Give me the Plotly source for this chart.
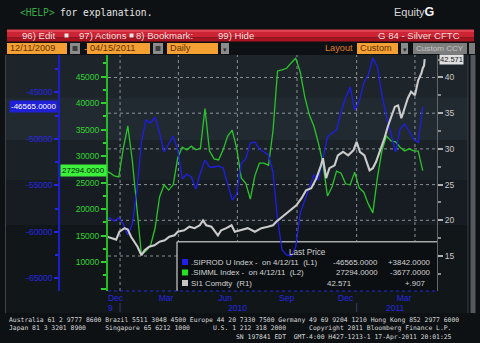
import pandas as pd
import plotly.graph_objects as go

# ---------------------------------------------------------------- data
# weekly CFTC positions (Tuesdays)
weeks = pd.date_range("2009-12-08", periods=71, freq="7D")

siprod_l1 = [
    -58620, -58510, -58840, -58510, -59160, -60340, -59160, -55500, -50340, -47980,
    -48300, -47660, -49380, -51420, -50560, -49700, -51200, -54320, -53780, -54100,
    -55400, -53680, -52280, -53030, -53030, -52920, -53140, -54750, -56580, -55930,
    -52600, -52170, -50450, -50340, -51100, -51420, -51740, -53570, -58620, -61950,
    -62490, -62600, -61630, -57980, -56580, -55070, -53890, -54430, -51960, -49810,
    -49380, -49050, -47120, -45610, -44430, -46900, -45940, -44000, -43140, -41310,
    -42280, -45290, -47550, -49480, -51420, -48950, -48410, -49160, -50020, -50407,
    -46565,
]

simml_l2 = [
    27200, 26900, 26300, 26100, 31500, 35700, 29100, 19800, 11400, 12100,
    13100, 16400, 22300, 24600, 23600, 24600, 29700, 31700, 31200, 31900,
    31200, 31500, 39000, 31000, 29500, 29300, 31200, 33800, 34900, 31500,
    25900, 24900, 21900, 26300, 28700, 28700, 28300, 34800, 46100, 46300,
    46600, 47600, 48500, 45900, 41200, 37800, 35700, 32500, 28700, 22500,
    24200, 27200, 26800, 24800, 24600, 27000, 24000, 23200, 21000, 19300,
    25900, 31000, 33800, 32900, 32700, 31700, 31000, 31400, 31000, 30971,
    27294,
]

# silver front-month price
silver_dates = [
    "2009-12-11", "2009-12-20", "2009-12-25", "2009-12-30", "2010-01-07", "2010-01-12",
    "2010-01-17", "2010-01-22", "2010-01-27", "2010-02-02", "2010-02-07", "2010-02-14",
    "2010-02-22", "2010-03-02", "2010-03-10", "2010-03-17", "2010-03-25", "2010-03-30",
    "2010-04-09", "2010-04-17", "2010-04-25", "2010-05-03", "2010-05-08", "2010-05-13",
    "2010-05-21", "2010-05-31", "2010-06-05", "2010-06-13", "2010-06-21", "2010-06-26",
    "2010-07-06", "2010-07-16", "2010-07-27", "2010-08-06", "2010-08-16", "2010-08-24",
    "2010-08-29", "2010-09-08", "2010-09-19", "2010-09-29", "2010-10-07", "2010-10-14",
    "2010-10-22", "2010-10-30", "2010-11-06", "2010-11-09", "2010-11-14", "2010-11-19",
    "2010-11-27", "2010-12-02", "2010-12-10", "2010-12-18", "2010-12-26", "2010-12-31",
    "2011-01-05", "2011-01-12", "2011-01-20", "2011-01-25", "2011-01-30", "2011-02-07",
    "2011-02-12", "2011-02-17", "2011-02-23", "2011-02-28", "2011-03-05", "2011-03-10",
    "2011-03-15", "2011-03-20", "2011-03-25", "2011-03-31", "2011-04-05", "2011-04-10",
    "2011-04-12", "2011-04-14", "2011-04-15",
]
silver_r1 = [
    17.7, 17.5, 17.3, 18.4, 18.9, 18.7,
    17.7, 17.0, 16.3, 15.1, 15.8, 16.3,
    16.5, 17.0, 17.2, 17.7, 17.9, 18.4,
    18.6, 19.1, 18.9, 19.3, 20.0, 19.3,
    19.1, 17.9, 18.6, 18.9, 19.3, 18.4,
    18.6, 18.9, 18.4, 18.9, 19.1, 19.3,
    19.8, 20.5, 21.4, 22.1, 23.1, 24.2,
    24.5, 25.9, 27.7, 28.7, 25.9, 27.3,
    27.7, 29.1, 29.6, 29.1, 29.8, 31.0,
    29.6, 29.1, 27.0, 27.3, 28.2, 30.1,
    31.5, 33.1, 34.5, 35.9, 36.1, 34.3,
    35.7, 37.1, 38.0, 37.5, 39.6, 40.6,
    41.3, 41.664, 42.571,
]

l1_ticks = [-65000, -60000, -55000, -50000, -45000]
l1_text = ["-65000", "-60000", "-55000", "-50000", "-45000"]
l2_ticks = [5000, 10000, 15000, 20000, 25000, 30000, 35000, 40000, 45000]
l2_text = ["", "10000", "15000", "20000", "25000", "30000", "35000", "40000", "45000"]
r1_ticks = [15, 20, 25, 30, 35, 40]
month_ticks = ["2009-12-24", "2010-03-12", "2010-06-11", "2010-09-14", "2010-12-14", "2011-03-14"]
month_text = ["Dec", "Mar", "Jun", "Sep", "Dec", "Mar"]
quarter_ends = ["2009-12-31", "2010-03-31", "2010-06-30", "2010-09-30", "2010-12-31", "2011-03-31"]
year_pos = ["2009-12-16", "2010-06-30", "2011-03-01"]
year_text = ["9", "2010", "2011"]

legend_rows = [
    (".SIPROD U Index -  on 4/12/11  (L1)", "-46565.0000", "+3842.0000", "#1f1fe8"),
    (".SIMML Index -  on 4/12/11  (L2)", "27294.0000", "-3677.0000", "#22e022"),
    ("SI1 Comdty  (R1)", "42.571", "+.907", "#c4c4c4"),
]

footer_lines = [
    ["Australia 61 2 9777 8600 Brazil 5511 3048 4500 Europe 44 20 7330 7500 "
     "Germany 49 69 9204 1210 Hong Kong 852 2977 6000"],
    ["Japan 81 3 3201 8900", "Singapore 65 6212 1000", "U.S. 1 212 318 2000",
     "Copyright 2011 Bloomberg Finance L.P."],
    ["SN 197841 EDT", "GMT-4:00 H427-1213-1 17-Apr-2011 20:01:25"],
]
# character columns where each footer segment starts
footer_cols = [[0], [0, 25, 53, 78], [59, 74]]

# ---------------------------------------------------------------- geometry helpers
W, H = 480, 343
ML, MR, MT, MB = 59, 43, 55, 52


def px(x):
    return (x - ML) / (W - ML - MR)


def py(y):
    return (H - MB - y) / (H - MT - MB)


MONO = "DejaVu Sans Mono"
SANS = "Liberation Sans, Arial, sans-serif"
BLUE = "#2626e0"
GREEN = "#33d233"

fig = go.Figure()
fig.add_trace(go.Scatter(x=weeks, y=simml_l2, yaxis="y", mode="lines",
                         line=dict(color="#2bc42b", width=1.3), hoverinfo="skip"))
fig.add_trace(go.Scatter(x=weeks, y=siprod_l1, yaxis="y2", mode="lines",
                         line=dict(color="#1e1ee6", width=1.3), hoverinfo="skip"))
fig.add_trace(go.Scatter(x=silver_dates, y=silver_r1, yaxis="y3", mode="lines",
                         line=dict(color="#cbcbcb", width=2.1), hoverinfo="skip"))

shapes = []


def rect(x0, y0, x1, y1, fill, layer="below", line=None):
    shapes.append(dict(type="rect", xref="paper", yref="paper",
                       x0=px(x0), x1=px(x1), y0=py(y1), y1=py(y0),
                       fillcolor=fill, line=line or dict(width=0), layer=layer))


def vline(x, y0, y1, color, width=1, layer="below"):
    shapes.append(dict(type="line", xref="paper", yref="paper",
                       x0=px(x), x1=px(x), y0=py(y0), y1=py(y1),
                       line=dict(color=color, width=width), layer=layer))


def hline(x0, x1, y, color, width=1, layer="below"):
    shapes.append(dict(type="line", xref="paper", yref="paper",
                       x0=px(x0), x1=px(x1), y0=py(y), y1=py(y),
                       line=dict(color=color, width=width), layer=layer))


# chart panel background bands
for y0, y1, c in [(55, 98, "#1d252b"), (98, 140, "#212a30"), (140, 180, "#1b2227"),
                  (180, 225, "#161c21"), (225, 313, "#111619")]:
    rect(5, y0, 468, y1, c)
vline(5.5, 55, 313, "#3c4247")
vline(468, 55, 313, "#3c4247")
rect(470.5, 55, 475.5, 313, "#55595e")

# dotted grid: quarter ends and right-axis levels
GRID = dict(color="#8b9197", width=1, dash="dot")
for d in quarter_ends:
    shapes.append(dict(type="line", xref="x", yref="paper", x0=d, x1=d, y0=0, y1=1,
                       line=GRID, layer="below"))
for v in r1_ticks:
    shapes.append(dict(type="line", xref="paper", yref="y3", x0=px(108), x1=1, y0=v, y1=v,
                       line=GRID, layer="below"))

# legend panel inside the plot (covers the grid, lies under the series)
rect(177, 241.7, 437, 291, "#0b0f12")
hline(177, 437, 241.7, "#a8a8a8", 1.5)
vline(177, 241.7, 291, "#a8a8a8", 1.5)
for i, row in enumerate(legend_rows):
    yc = [262, 272.5, 283][i]
    rect(182, yc - 3, 188, yc + 3, row[3], layer="above")

# bottom axis line and year separators
shapes.append(dict(type="line", xref="paper", yref="paper", x0=px(108), x1=1, y0=0, y1=0,
                   line=dict(color=BLUE, width=1.2, dash="dot"), layer="above"))
for d in ["2009-12-31", "2010-12-31"]:
    shapes.append(dict(type="line", xref="x", yref="paper", x0=d, x1=d,
                       y0=py(303), y1=py(312), line=dict(color="#363c6a", width=1)))

# header: red command bar
rect(7, 29.5, 474, 32, "#de4050")
rect(7, 32, 474, 37.5, "#cc2434")
rect(7, 37.5, 474, 41.5, "#a8141f")
rect(64.5, 33.5, 68.5, 37.5, "#e8e8e8")
rect(129.5, 33.5, 133.5, 37.5, "#e8e8e8")

# header: input fields
for x0, x1 in [(7, 67), (87, 150), (167, 218), (357, 398)]:
    rect(x0, 43, x1, 54, "#f5a032")
for x0, x1 in [(70, 80), (153, 163)]:
    rect(x0, 43, x1, 54, "#8c8c8c")
    rect(x0 + 2.5, 46, x1 - 2.5, 51, "#3e3e3e")
for x0, x1 in [(221, 229), (401, 408)]:
    rect(x0, 43, x1, 54, "#8c8c8c")
rect(413, 43, 467, 54, "#7d7d7d")
rect(469, 43, 475, 54, "#7d7d7d")

annotations = []


def text(x, y, s, color, size, font=SANS, anchor="left", **kw):
    annotations.append(dict(x=px(x), y=py(y), xref="paper", yref="paper", text=s,
                            showarrow=False, xanchor=anchor, yanchor="middle",
                            font=dict(family=font, size=size, color=color), **kw))


# top line
text(18, 12, "&lt;HELP&gt;", "#39a845", 9.6, MONO)
text(58, 12, "for explanation.", "#e6e6e6", 9.6, MONO)
text(392, 12, "Equity<b><span style='font-size:12.5px;color:#f4f4f4'>G</span></b>",
     "#d8d8d8", 11)

# red bar labels
bar_c = "#f6dede"
text(20, 35.5, "96) Edit", bar_c, 9.6)
text(77, 35.5, "97) Actions", bar_c, 9.6)
text(134, 35.5, "8) Bookmark:", bar_c, 9.6)
text(216, 35.5, "99) Hide", bar_c, 9.6)
text(462, 35.5, "G 84 - Silver CFTC", bar_c, 9.6, anchor="right")

# input field labels
field_c = "#5e3200"
text(8, 48.5, "12/11/2009", field_c, 9.2)
text(81.5, 48.5, "-", "#f5a032", 9.5)
text(88, 48.5, "04/15/2011", field_c, 9.2)
text(168, 48.5, "Daily", field_c, 9.2)
text(225, 49, "▾", "#2a2a2a", 7, anchor="center")
text(355, 48.5, "Layout", "#e07b20", 9.2, anchor="right")
text(358, 48.5, "Custom", field_c, 9.2)
text(404.5, 49, "▾", "#2a2a2a", 7, anchor="center")
text(414, 48.5, "Custom CCY", "#c4c4c4", 8.1)

# legend panel text
leg_c = "#d2d2d2"
text(307, 252, "Last Price", leg_c, 8.2, anchor="center")
for i, (lab, val, chg, _) in enumerate(legend_rows):
    yc = [262, 272.5, 283][i]
    text(188.5, yc, lab.replace("  ", "\u00a0 "), leg_c, 7.9)
    text(353 if i == 2 else 380, yc, val, leg_c, 7.9, anchor="right")
    text(427 if i == 2 else 433, yc, chg, leg_c, 7.9, anchor="right")

# year labels under the month ticks
for d, s in zip(year_pos, year_text):
    annotations.append(dict(x=d, y=py(308), xref="x", yref="paper", text=s, showarrow=False,
                            xanchor="center", yanchor="middle",
                            font=dict(family=SANS, size=8.5, color=BLUE)))

# last-value tags on the axes
annotations.append(dict(x=px(58), y=siprod_l1[-1], xref="paper", yref="y2",
                        text=f"{siprod_l1[-1]:.4f}", showarrow=False, xanchor="right",
                        yanchor="middle", bgcolor="#2020d8", borderpad=1,
                        font=dict(family=SANS, size=8, color="#ffffff")))
annotations.append(dict(x=px(107), y=simml_l2[-1], xref="paper", yref="y",
                        text=f"{simml_l2[-1]:.4f}", showarrow=False, xanchor="right",
                        yanchor="middle", bgcolor="#3cf03c", borderpad=1,
                        font=dict(family=SANS, size=8, color="#062006")))
annotations.append(dict(x=px(439), y=silver_r1[-1], xref="paper", yref="y3",
                        text=f"{silver_r1[-1]:.3f}", showarrow=False, xanchor="left",
                        yanchor="middle", bgcolor="#e0e0e0", borderpad=0,
                        font=dict(family=SANS, size=7.5, color="#202020")))

# footer block (fixed-width columns)
rows = []
for segs, cols in zip(footer_lines, footer_cols):
    line = ""
    for seg, col in zip(segs, cols):
        line += "\u00a0" * max(col - len(line), 1 if line else 0) + seg
    rows.append(line)
annotations.append(dict(x=px(8), y=py(315), xref="paper", yref="paper",
                        text="<br>".join(rows), showarrow=False, align="left",
                        xanchor="left", yanchor="top", borderpad=0,
                        font=dict(family=MONO, size=6.4, color="#d8d8d8")))

fig.update_layout(
    width=W, height=H,
    margin=dict(l=ML, r=MR, t=MT, b=MB, pad=0),
    paper_bgcolor="#0d1114",
    plot_bgcolor="rgba(0,0,0,0)",
    showlegend=False,
    shapes=shapes,
    annotations=annotations,
    xaxis=dict(
        domain=[px(108), 1], type="date",
        range=["2009-12-12 10:00", "2011-05-04"],
        tickmode="array", tickvals=month_ticks, ticktext=month_text,
        tickfont=dict(family=SANS, size=8.5, color=BLUE),
        ticks="", showgrid=False, showline=False, zeroline=False,
    ),
    yaxis=dict(
        anchor="x", side="left", range=[4560, 49100],
        tickmode="array", tickvals=l2_ticks, ticktext=l2_text,
        tickfont=dict(family=SANS, size=8.5, color=GREEN),
        ticks="outside", ticklen=5, tickwidth=2, tickcolor="#2fd02f",
        showline=True, linecolor="#27b827", linewidth=2,
        showgrid=False, zeroline=False,
        minor=dict(dtick=2500, tick0=0, ticks="outside", ticklen=3, tickcolor="#2fd02f"),
    ),
    yaxis2=dict(
        overlaying="y", anchor="free", position=0, side="left",
        range=[-66360, -40990],
        tickmode="array", tickvals=l1_ticks, ticktext=l1_text,
        tickfont=dict(family=SANS, size=8.5, color=BLUE),
        ticks="outside", ticklen=4, tickwidth=2, tickcolor=BLUE,
        showline=True, linecolor="#1d1dd0", linewidth=1.5,
        showgrid=False, zeroline=False,
        minor=dict(dtick=2500, tick0=0, ticks="outside", ticklen=3, tickcolor=BLUE),
    ),
    yaxis3=dict(
        overlaying="y", anchor="x", side="right", range=[10.1, 43.15],
        tickmode="array", tickvals=r1_ticks,
        tickfont=dict(family=SANS, size=8.5, color="#c8c8c8"),
        ticks="outside", ticklen=5, tickwidth=2, tickcolor="#b0b0b0",
        showline=True, linecolor="#60666c", linewidth=1,
        showgrid=False, zeroline=False,
        minor=dict(dtick=2.5, tick0=0, ticks="outside", ticklen=3, tickcolor="#8a8a8a"),
    ),
)

fig.write_html("out.html")
